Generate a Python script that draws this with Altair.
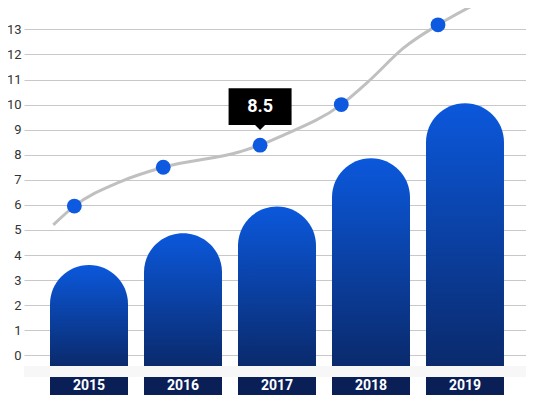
import altair as alt
import pandas as pd

# ---- data ----
years = ["2015", "2016", "2017", "2018", "2019"]
bar_values = [3.6, 4.87, 5.93, 7.86, 10.05]
dot_x = [-0.156, 0.79, 1.82, 2.684, 3.713]
dot_values = [5.95, 7.5, 8.38, 10.0, 13.18]
line_x = [-0.38, -0.156, 0.33, 0.79, 1.606, 1.82, 2.032, 2.684, 2.989, 3.344, 3.713, 4.106]
line_y = [5.2, 5.95, 6.92, 7.5, 8.12, 8.38, 8.72, 10.0, 10.98, 12.25, 13.18, 14.0]
callout_year = "2017"
callout_text = "8.5"
y_ticks = list(range(0, 15))

bars = pd.DataFrame({"year": years, "idx": list(range(len(years))), "value": bar_values})
dots = pd.DataFrame({"year": years, "dx": dot_x, "value": dot_values})
line = pd.DataFrame({"lx": line_x, "ly": line_y})
callout = dots[dots["year"] == callout_year].assign(label=callout_text)
dummy = pd.DataFrame({"a": [0]})

X0, X1 = -0.6915, 4.649
Y0, Y1 = -1.584, 13.852
xs = alt.Scale(domain=[X0, X1], nice=False, zero=False, padding=0)
ys = alt.Scale(domain=[Y0, Y1], nice=False, zero=False, padding=0)

y_axis = alt.Axis(values=y_ticks, grid=True, gridColor="#c8c8c8", gridWidth=1,
                  domain=False, ticks=False, labelFontSize=13, labelColor="#333333",
                  labelFont="Roboto", labelPadding=3, title=None)

BAR_GRAD = alt.Gradient(
    gradient="linear",
    stops=[alt.GradientStop(color="#0b58dc", offset=0),
           alt.GradientStop(color="#0a2a6c", offset=1)],
    x1=0, x2=0, y1=0, y2=1,
)

bar_layer = alt.Chart(bars).mark_bar(
    width=78, cornerRadiusTopLeft=39, cornerRadiusTopRight=39, color=BAR_GRAD
).encode(
    x=alt.X("idx:Q", scale=xs, axis=None),
    y=alt.Y("value:Q", scale=ys, axis=y_axis),
    y2=alt.datum(-0.427),
)

band = alt.Chart(dummy).mark_rect(color="#f7f7f7").encode(
    x=alt.X(datum=X0, scale=xs, axis=None), x2=alt.datum(X1),
    y=alt.Y(datum=-0.427, scale=ys, axis=y_axis), y2=alt.datum(-0.866),
)

label_boxes = alt.Chart(bars).mark_bar(width=78, color="#0b1f57").encode(
    x=alt.X("idx:Q", scale=xs, axis=None),
    y=alt.Y(datum=-0.866, scale=ys, axis=y_axis), y2=alt.datum(Y0),
)

label_text = alt.Chart(bars).mark_text(
    color="white", font="Roboto", fontWeight="bold", fontSize=14, baseline="middle"
).encode(
    x=alt.X("idx:Q", scale=xs, axis=None),
    y=alt.Y(datum=-1.225, scale=ys, axis=y_axis),
    text="year:N",
)

line_layer = alt.Chart(line).mark_line(
    color="#c0c0c0", strokeWidth=3, interpolate="monotone", clip=True
).encode(
    x=alt.X("lx:Q", scale=xs, axis=None),
    y=alt.Y("ly:Q", scale=ys, axis=y_axis),
)

dot_layer = alt.Chart(dots).mark_circle(size=220, color="#0d5ae0", opacity=1).encode(
    x=alt.X("dx:Q", scale=xs, axis=None),
    y=alt.Y("value:Q", scale=ys, axis=y_axis),
)

callout_box = alt.Chart(callout).mark_bar(width=63, color="#000000").encode(
    x=alt.X("dx:Q", scale=xs, axis=None),
    y=alt.Y(datum=10.65, scale=ys, axis=y_axis), y2=alt.datum(9.19),
)
callout_ptr = alt.Chart(callout).mark_point(
    shape="M-1,-0.5L1,-0.5L0,0.5Z", size=100, filled=True, color="#000000", opacity=1
).encode(
    x=alt.X("dx:Q", scale=xs, axis=None),
    y=alt.Y(datum=9.09, scale=ys, axis=y_axis),
)
callout_text_layer = alt.Chart(callout).mark_text(
    color="white", font="Roboto", fontWeight="bold", fontSize=18, baseline="middle"
).encode(
    x=alt.X("dx:Q", scale=xs, axis=None),
    y=alt.Y(datum=9.91, scale=ys, axis=y_axis),
    text="label:N",
)

chart = alt.layer(
    bar_layer, band, label_boxes, label_text, line_layer, dot_layer,
    callout_box, callout_ptr, callout_text_layer
).properties(
    width=502, height=387,
    autosize=alt.AutoSizeParams(type="none"),
    padding={"left": 16, "top": 0, "right": 0, "bottom": 0},
    background="white",
).configure_view(stroke=None)

chart.save("out.html", embed_options={"renderer": "svg", "actions": False})
